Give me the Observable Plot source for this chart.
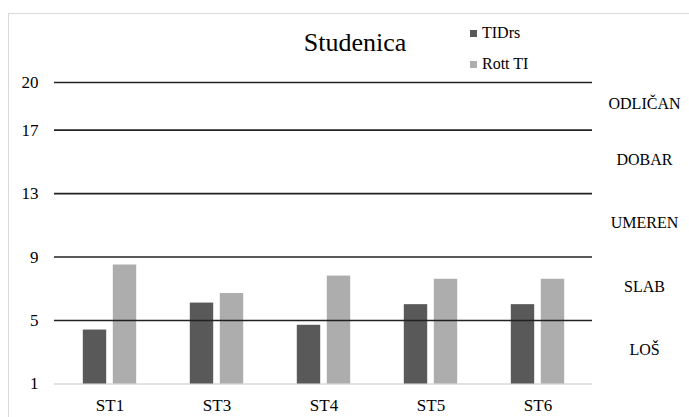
<!DOCTYPE html>
<html>
<head>
<meta charset="utf-8">
<script src="https://cdn.jsdelivr.net/npm/d3@7"></script>
<script src="https://cdn.jsdelivr.net/npm/@observablehq/plot@0.6"></script>
<style>
  html, body { margin: 0; padding: 0; background: #fff; overflow: hidden; }
  body { width: 689px; height: 417px; position: relative; font-family: 'Liberation Serif', 'DejaVu Serif', 'Times New Roman', serif; }
  #frame { position: absolute; left: 8px; top: 13px; width: 720px; height: 440px; border: 1px solid #d9d9d9; box-sizing: border-box; }
  #header { position: relative; height: 70px; }
  #title { position: absolute; left: 255px; width: 200px; top: 30px; line-height: 26px; font-size: 26px; text-align: center; color: #000; }
  .leg { position: absolute; left: 470px; font-size: 16px; line-height: 16px; color: #000; }
  .leg .sw { position: absolute; left: 0; width: 7px; height: 7px; }
  .leg .lb { position: absolute; left: 12px; white-space: nowrap; }
  #chart { position: relative; }
  #chart svg, #chart svg text { font-family: 'Liberation Serif', 'DejaVu Serif', 'Times New Roman', serif; }
</style>
</head>
<body>
<div id="frame"></div>
<div id="header">
  <div id="title">Studenica</div>
  <div class="leg" id="leg0" style="top:0"><div class="sw" style="top:30px;background:#595959"></div><div class="lb" style="top:24.6px">TIDrs</div></div>
  <div class="leg" id="leg1" style="top:0"><div class="sw" style="top:60.5px;background:#adadad"></div><div class="lb" style="top:55.6px">Rott TI</div></div>
</div>
<div id="chart"></div>
<script>
const categories = ["ST1", "ST3", "ST4", "ST5", "ST6"];
const seriesNames = ["TIDrs", "Rott TI"];
const tidrs = [4.4, 6.1, 4.7, 6.0, 6.0];
const rottTI = [8.5, 6.7, 7.8, 7.6, 7.6];
const yTicks = [1, 5, 9, 13, 17, 20];
const classLower = [1, 5, 9, 13, 17];
const classUpper = [5, 9, 13, 17, 20];
const classLabels = ["LOŠ", "SLAB", "UMEREN", "DOBAR", "ODLIČAN"];
const seriesColors = ["#595959", "#adadad"];

const tidrsRows = categories.map((c, i) => ({cat: c, value: tidrs[i]}));
const rottRows = categories.map((c, i) => ({cat: c, value: rottTI[i]}));
const classRows = classLabels.map((t, i) => ({label: t, mid: (classLower[i] + classUpper[i]) / 2}));

const font = "'Liberation Serif', 'DejaVu Serif', serif";

const chart = Plot.plot({
  width: 689,
  height: 347,
  marginTop: 12,
  marginBottom: 33.5,
  marginLeft: 54,
  marginRight: 97,
  style: {fontFamily: font, fontSize: "17px", color: "#000", background: "transparent", overflow: "visible"},
  x: {domain: categories, padding: 0, label: null, tickSize: 0, tickPadding: 15},
  y: {domain: [1, 20], ticks: yTicks, label: null, tickSize: 0, tickPadding: 16, tickFormat: d => String(d)},
  marks: [
    Plot.ruleY([1], {stroke: "#d9d9d9", strokeWidth: 1.5}),
    Plot.barY(tidrsRows, {x: "cat", y1: 1, y2: "value", fill: seriesColors[0], insetLeft: 26.8, insetRight: 56.8}),
    Plot.barY(rottRows, {x: "cat", y1: 1, y2: "value", fill: seriesColors[1], insetLeft: 56.8, insetRight: 26.8}),
    Plot.ruleY(classUpper, {stroke: "#222", strokeWidth: 1.6}),
    Plot.text(classRows, {y: "mid", text: "label", frameAnchor: "right", dx: 52, dy: -2, textAnchor: "middle", fontSize: 16, fill: "#000"})
  ]
});
document.getElementById("chart").appendChild(chart);
</script>
</body>
</html>
